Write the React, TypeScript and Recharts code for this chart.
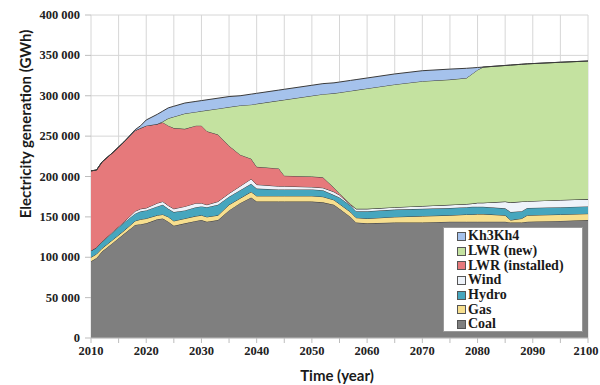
import { AreaChart, Area, XAxis, YAxis, CartesianGrid, Legend } from "recharts";

// years sampled where the stack changes shape
const years = [
    2010, 2011, 2012, 2014, 2016, 2018, 2019, 2020, 2022, 2023,
    2024, 2025, 2027, 2029, 2030, 2031, 2033, 2035, 2037, 2039,
    2040, 2044, 2045, 2050, 2052, 2054, 2055, 2057, 2058, 2060,
    2065, 2070, 2075, 2078, 2079, 2080, 2081, 2085, 2086, 2088,
    2089, 2095, 2100,
];

// generation per source, thousand GWh
const coal = [
    95, 99, 107, 118, 129, 140, 141, 142, 147, 148,
    144, 139, 142, 145, 146, 144, 146, 158, 167, 174,
    169, 169, 169, 169, 168, 165, 160, 150, 143, 142,
    143, 143, 144, 144, 144, 144, 144, 144, 143, 143,
    144, 145, 146,
];
const gas = [
    5, 5, 4, 4, 4, 5, 6, 6, 5, 5,
    6, 6, 6, 6, 6, 6, 6, 7, 6, 7,
    7, 7, 7, 7, 7, 6, 6, 6, 6, 6,
    7, 8, 8, 9, 9, 9.5, 9.5, 8, 3, 5,
    8, 8, 8,
];
const hydro = [
    8, 8, 8, 9, 10, 9, 10, 10, 11, 12,
    10, 11, 10, 11, 11, 12, 13, 10, 10, 10,
    9, 8, 8, 8, 8, 6, 8, 8, 8, 9,
    9, 9, 9, 9, 9.5, 9, 9, 8.6, 10, 9,
    9, 9, 9,
];
const wind = [
    0, 0, 0.5, 1, 1, 3, 3, 3, 4, 4,
    4, 4, 5, 5, 4, 3, 4, 4, 5, 6,
    5, 4, 4, 3, 3, 4, 3, 1, 3, 3,
    3, 3.5, 4, 4, 4, 5, 5, 8.4, 12, 12,
    8.5, 9, 9,
];
const lwrInstalled = [
    99, 96, 98.5, 98, 99, 100, 100, 102, 98, 98,
    99, 100, 96, 96, 96, 91, 83, 59, 39, 25,
    22, 22, 13, 13, 13, 5, 2, 1, 0, 0,
    0, 0, 0, 0, 0, 0, 0, 0, 0, 0,
    0, 0, 0,
];
const lwrNew = [
    0, 0, 0, 0, 0, 0, 0, 0, 0, 1,
    9, 14, 19, 17, 18, 26, 32, 48, 61, 67,
    78, 84, 94, 100, 103, 117, 125, 140, 147, 149,
    152, 154.5, 155, 156, 160.5, 164.5, 168, 168.5, 170, 170,
    170, 170.5, 171,
];
const kh3kh4 = [
    0, 0, 0, 0, 0, 1, 3, 7, 12, 13,
    13, 13, 13, 13, 13, 13, 13, 13, 12, 13,
    13, 13, 13, 13, 13, 13, 13, 13, 13, 13,
    13, 13, 13, 12, 7.5, 3, 0, 0, 0, 0,
    0, 0, 0,
];

const xTicks = [
    2010, 2015, 2020, 2025, 2030, 2035, 2040, 2045, 2050, 2055,
    2060, 2065, 2070, 2075, 2080, 2085, 2090, 2095, 2100,
];
const yTicks = [0, 50000, 100000, 150000, 200000, 250000, 300000, 350000, 400000];

const series = [
    { key: "Coal", values: coal, color: "#7f7f7f" },
    { key: "Gas", values: gas, color: "#f7df8e" },
    { key: "Hydro", values: hydro, color: "#46a6be" },
    { key: "Wind", values: wind, color: "#eef3fa" },
    { key: "LWR (installed)", values: lwrInstalled, color: "#e6797b" },
    { key: "LWR (new)", values: lwrNew, color: "#c4e2a0" },
    { key: "Kh3Kh4", values: kh3kh4, color: "#a5c2ec" },
];

const data = years.map((year, i) => {
    const row: Record<string, number> = { year };
    series.forEach((s) => {
        row[s.key] = s.values[i] * 1000;
    });
    return row;
});

const formatY = (v: number) => (v === 0 ? "0" : `${Math.round(v / 1000)} 000`);
const formatX = (v: number) => (v % 10 === 0 ? String(v) : "");

const SERIF = "'Liberation Serif', 'Times New Roman', 'DejaVu Serif', serif";

const XTick = (p: any) => (
    <text
        x={p.payload.value === 2100 ? p.x - 2 : p.x}
        y={p.y}
        dy={9}
        textAnchor="middle"
        fill="#222"
        fontFamily={SERIF}
        fontWeight={700}
        fontSize={12.5}
    >
        {formatX(p.payload.value)}
    </text>
);

const YTick = (p: any) => (
    <text
        x={p.x}
        y={p.y}
        dy={4}
        textAnchor="end"
        fill="#222"
        fontFamily={SERIF}
        fontWeight={700}
        fontSize={12.5}
    >
        {formatY(p.payload.value)}
    </text>
);

const renderLegend = () => (
    <div
        style={{
            width: 140,
            height: 105,
            boxSizing: "border-box",
            background: "#fff",
            border: "1px solid #9a9a9a",
            padding: "1px 0 0 13px",
            fontFamily: SERIF,
            fontWeight: 700,
            fontSize: 14,
            color: "#1a1a1a",
        }}
    >
        {[...series].reverse().map((s) => (
            <div key={s.key} style={{ display: "flex", alignItems: "center", height: 14.7 }}>
                <span
                    style={{
                        display: "inline-block",
                        width: 7,
                        height: 7,
                        background: s.color,
                        border: "1px solid #555",
                        marginRight: 2,
                    }}
                />
                <span>{s.key}</span>
            </div>
        ))}
    </div>
);

const titleStyle = {
    position: "absolute" as const,
    whiteSpace: "nowrap" as const,
    fontFamily: "Lato, sans-serif",
    fontWeight: 700,
    fontSize: 15,
    color: "#1a1a1a",
};

export default function App() {
    // pinned to the page corner so the window never scrolls
    return (
        <div style={{ position: "absolute", left: 0, top: 0, width: 600, height: 385 }}>
            <AreaChart
                width={600}
                height={385}
                data={data}
                margin={{ top: 15, right: 12, bottom: 2, left: 0 }}
            >
                <CartesianGrid stroke="#d6d6d6" />
                <XAxis
                    dataKey="year"
                    type="number"
                    domain={[2010, 2100]}
                    ticks={xTicks}
                    interval={0}
                    height={45}
                    tickSize={5}
                    tickMargin={3}
                    axisLine={{ stroke: "#bdbdbd" }}
                    tickLine={{ stroke: "#bdbdbd" }}
                    tick={XTick}
                />
                <YAxis
                    domain={[0, 400000]}
                    ticks={yTicks}
                    width={91}
                    tickSize={6}
                    tickMargin={5}
                    axisLine={false}
                    tickLine={{ stroke: "#bdbdbd" }}
                    tick={YTick}
                />
                {series.map((s) => (
                    <Area
                        key={s.key}
                        type="linear"
                        dataKey={s.key}
                        stackId="gen"
                        fill={s.color}
                        fillOpacity={1}
                        stroke="#3b3b3b"
                        strokeWidth={1}
                        isAnimationActive={false}
                    />
                ))}
                <Legend
                    layout="horizontal"
                    verticalAlign="middle"
                    align="center"
                    content={renderLegend}
                    wrapperStyle={{ left: 443, top: 227, width: 140, height: 105 }}
                />
            </AreaChart>
            <div
                style={{
                    ...titleStyle,
                    left: 25,
                    top: 124,
                    transform: "translate(-50%, -50%) rotate(-90deg)",
                }}
            >
                Electricity generation (GWh)
            </div>
            <div style={{ ...titleStyle, left: 337, top: 375, transform: "translate(-50%, -50%)" }}>
                Time (year)
            </div>
        </div>
    );
}
